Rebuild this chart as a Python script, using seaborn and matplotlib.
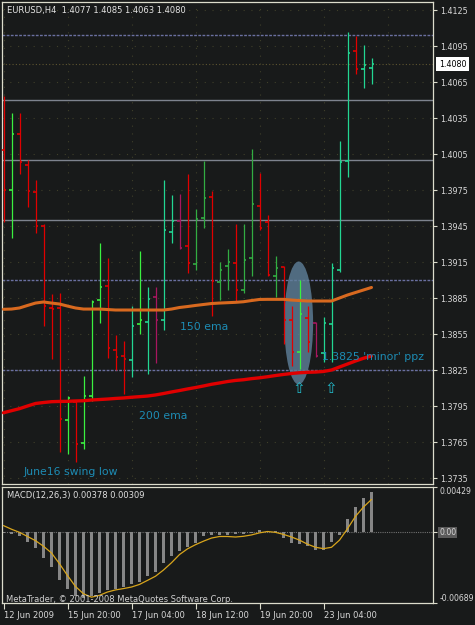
import matplotlib
matplotlib.use("Agg")
import matplotlib.pyplot as plt
import matplotlib.transforms as mtransforms
from matplotlib.patches import Ellipse
import numpy as np
import seaborn as sns

# ---------------- data ----------------
bar_idx = list(range(47))
opens = [1.4008, 1.3975, 1.4022, 1.3996, 1.3973, 1.3945, 1.3877, 1.3877, 1.3783, 1.3798,
         1.3764, 1.3803, 1.3883, 1.3895, 1.3842, 1.3837, 1.3833, 1.3863, 1.3865, 1.3886,
         1.3867, 1.3940, 1.3949, 1.3928, 1.3913, 1.3952, 1.3969, 1.3898, 1.3912, 1.3914,
         1.3892, 1.3918, 1.3962, 1.3948, 1.3903, 1.3911, 1.3867, 1.3840, 1.3868, 1.3864,
         1.3839, 1.3863, 1.3908, 1.3999, 1.4091, 1.4076, 1.4077]
highs = [1.4053, 1.4039, 1.4039, 1.4000, 1.3983, 1.3947, 1.3888, 1.3889, 1.3803, 1.3799,
         1.3820, 1.3883, 1.3931, 1.3918, 1.3854, 1.3849, 1.3878, 1.3924, 1.3894, 1.3894,
         1.3983, 1.3971, 1.3972, 1.3988, 1.3959, 1.3999, 1.3974, 1.3915, 1.3926, 1.3947,
         1.3947, 1.4009, 1.3989, 1.3954, 1.3920, 1.3912, 1.3878, 1.3900, 1.3878, 1.3865,
         1.3869, 1.3914, 1.4016, 1.4107, 1.4103, 1.4096, 1.4085]
lows = [1.3948, 1.3935, 1.3988, 1.3961, 1.3939, 1.3862, 1.3834, 1.3757, 1.3755, 1.3748,
        1.3759, 1.3799, 1.3864, 1.3835, 1.3825, 1.3805, 1.3819, 1.3855, 1.3822, 1.3831,
        1.3858, 1.3931, 1.3926, 1.3906, 1.3908, 1.3943, 1.3870, 1.3883, 1.3892, 1.3882,
        1.3889, 1.3903, 1.3942, 1.3903, 1.3886, 1.3847, 1.3828, 1.3826, 1.3840, 1.3836,
        1.3832, 1.3832, 1.3907, 1.3986, 1.4072, 1.4060, 1.4063]
closes = [1.3975, 1.4022, 1.3998, 1.3974, 1.3945, 1.3878, 1.3876, 1.3784, 1.3802, 1.3763,
          1.3803, 1.3882, 1.3894, 1.3843, 1.3836, 1.3834, 1.3862, 1.3867, 1.3884, 1.3867,
          1.3942, 1.3949, 1.3927, 1.3914, 1.3951, 1.3968, 1.3899, 1.3908, 1.3915, 1.3892,
          1.3917, 1.3963, 1.3943, 1.3904, 1.3910, 1.3867, 1.3840, 1.3872, 1.3848, 1.3837,
          1.3864, 1.3910, 1.3998, 1.4089, 1.4076, 1.4079, 1.4080]
bar_kind = ['R', 'G', 'R', 'R', 'R', 'R', 'R', 'R', 'G', 'R',
            'G', 'G', 'G', 'R', 'R', 'R', 'T', 'G', 'T', 'P',
            'T', 'T', 'P', 'R', 'D', 'D', 'R', 'D', 'D', 'R',
            'D', 'D', 'R', 'R', 'D', 'R', 'R', 'G', 'R', 'P',
            'T', 'T', 'T', 'T', 'R', 'T', 'T']
ema150 = [1.38756, 1.38758, 1.38767, 1.38788, 1.38808, 1.38817, 1.38808, 1.38800, 1.38783, 1.38767,
          1.38758, 1.38758, 1.38758, 1.38754, 1.38750, 1.38750, 1.38750, 1.38750, 1.38750, 1.38750,
          1.38750, 1.38758, 1.38771, 1.38779, 1.38788, 1.38796, 1.38804, 1.38808, 1.38811, 1.38814,
          1.38819, 1.38829, 1.38838, 1.38839, 1.38839, 1.38839, 1.38833, 1.38829, 1.38825, 1.38825,
          1.38825, 1.38825, 1.38850, 1.38875, 1.38896, 1.38917, 1.38938]
ema200 = [1.37894, 1.37911, 1.37928, 1.37950, 1.37971, 1.37979, 1.37986, 1.37988, 1.37989, 1.37992,
          1.37994, 1.38000, 1.38004, 1.38008, 1.38013, 1.38017, 1.38023, 1.38028, 1.38033, 1.38042,
          1.38054, 1.38067, 1.38079, 1.38092, 1.38104, 1.38117, 1.38131, 1.38142, 1.38154, 1.38163,
          1.38169, 1.38178, 1.38185, 1.38194, 1.38204, 1.38213, 1.38221, 1.38227, 1.38231, 1.38233,
          1.38238, 1.38250, 1.38275, 1.38300, 1.38325, 1.38348, 1.38367]
macd_hist = [-0.00010, -0.00020, -0.00043, -0.00100, -0.00159, -0.00259, -0.00341, -0.00468, -0.00557, -0.00623,
             -0.00640, -0.00623, -0.00590, -0.00563, -0.00550, -0.00530, -0.00507, -0.00484, -0.00431, -0.00391,
             -0.00308, -0.00232, -0.00185, -0.00152, -0.00109, -0.00043, -0.00033, -0.00030, -0.00030, -0.00028,
             -0.00025, -0.00010, 0.00014, 0.00005, 0.00002, -0.00060, -0.00110, -0.00125, -0.00142, -0.00175,
             -0.00182, -0.00100, -0.00033, 0.00123, 0.00233, 0.00322, 0.00378]
macd_signal = [0.00057, 0.00022, -0.00008, -0.00048, -0.00088, -0.00142, -0.00207, -0.00311, -0.00424, -0.00530,
               -0.00600, -0.00633, -0.00615, -0.00583, -0.00563, -0.00550, -0.00535, -0.00510, -0.00471, -0.00431,
               -0.00371, -0.00301, -0.00222, -0.00167, -0.00127, -0.00093, -0.00063, -0.00048, -0.00048, -0.00053,
               -0.00046, -0.00033, -0.00013, 0.00000, -0.00008, -0.00028, -0.00053, -0.00083, -0.00122, -0.00152,
               -0.00165, -0.00152, -0.00083, 0.00027, 0.00146, 0.00236, 0.00309]
price_ticks = [1.4125, 1.4095, 1.4065, 1.4035, 1.4005, 1.3975, 1.3945, 1.3915,
               1.3885, 1.3855, 1.3825, 1.3795, 1.3765, 1.3735]
price_labels = ["1.4125", "1.4095", "1.4065", "1.4035", "1.4005", "1.3975", "1.3945", "1.3915",
                "1.3885", "1.3855", "1.3825", "1.3795", "1.3765", "1.3735"]
date_tick_idx = [0, 8, 16, 24, 32, 40]
date_labels = ["12 Jun 2009", "15 Jun 20:00", "17 Jun 04:00", "18 Jun 12:00",
               "19 Jun 20:00", "23 Jun 04:00"]
macd_ticks = [-0.00689, 0.0, 0.00429]
macd_labels = ["-0.00689", "0.00", "0.00429"]
solid_levels = [1.4050, 1.4000, 1.3950]
dotted_levels = [1.4104, 1.3900, 1.3825]
bid_price = 1.4080

# ---------------- style ----------------
BG = "#181a1a"
FRAME = "#dcdccc"
TXT = "#d8d8d8"
ANNO = "#1d8cb4"
palette = {"R": "#e00000", "G": "#3af040", "T": "#22d692", "D": "#32ad42", "P": "#a8165f"}

sns.set_theme(style="dark", rc={"axes.facecolor": BG, "figure.facecolor": BG,
                                "axes.edgecolor": FRAME, "axes.grid": False})
plt.rcParams["font.family"] = ["DejaVu Sans"]

W, H = 475, 625
fig = plt.figure(figsize=(W / 100, H / 100), dpi=100)


def px_axes(l, t, r, b):
    return fig.add_axes([l / W, 1 - b / H, (r - l) / W, (b - t) / H])


ax = px_axes(2, 2, 433, 484)
ax2 = px_axes(2, 487, 433, 603)

for a in (ax, ax2):
    a.set_facecolor(BG)
    a.grid(False)
    for s in a.spines.values():
        s.set_color(FRAME)
        s.set_linewidth(0.9)

# ---------------- main price panel ----------------
xlim = (-0.1875, 53.6875)   # 8 px per bar, bars centred on pixel centres
ax.set_xlim(*xlim)
ax.set_ylim(1.37300, 1.41317)

# faint dotted MetaTrader grid
for p in price_ticks:
    ax.axhline(p, color="#3f3f2a", ls=(0, (1, 6)), lw=0.8, zorder=0)
for k in date_tick_idx + [48]:
    ax.axvline(k, color="#3f3f2a", ls=(0, (1, 6)), lw=0.8, zorder=0)
ax.axhline(bid_price, color="#5e5530", ls=(0, (1, 2)), lw=0.8, zorder=0)

for p in solid_levels:
    ax.axhline(p, color="#7d838e", lw=1.0, zorder=1)
for p in dotted_levels:
    ax.axhline(p, color="#6a70a0", lw=1.0, ls=(0, (2, 1)), zorder=1)

# highlighted ellipse
ax.add_patch(Ellipse((36.9, 1.38642), 3.6, 0.01025, facecolor="#5f809a",
                     edgecolor="none", alpha=0.8, zorder=2))

idx = np.array(bar_idx, dtype=float)
cols = [palette[k] for k in bar_kind]
ax.vlines(idx, lows, highs, colors=cols, lw=0.9, zorder=4)
ax.hlines(opens, idx - 0.36, idx, colors=cols, lw=1.2, zorder=4)
ax.hlines(closes, idx, idx + 0.36, colors=cols, lw=1.2, zorder=4)

sns.lineplot(x=bar_idx, y=ema150, ax=ax, color="#d8691f", lw=2.2, legend=False, zorder=5)
sns.lineplot(x=bar_idx, y=ema200, ax=ax, color="#e00000", lw=2.4, legend=False, zorder=5)
ax.set_xlim(*xlim)
ax.set_ylim(1.37300, 1.41317)
ax.set_xlabel("")
ax.set_ylabel("")

ax.yaxis.tick_right()
ax.set_yticks(price_ticks)
ax.set_yticklabels(price_labels)
ax.tick_params(axis="y", right=True, left=False, length=3, width=0.8, color=FRAME,
               labelsize=5.8, labelcolor=TXT, pad=2, direction="out")
ax.set_xticks([])

# annotations
ax.text(22.0, 1.38608, "150 ema", color=ANNO, fontsize=7.8, va="center", ha="left", zorder=6)
ax.text(16.9, 1.37867, "200 ema", color=ANNO, fontsize=7.8, va="center", ha="left", zorder=6)
ax.text(2.54, 1.37402, "June16 swing low", color=ANNO, fontsize=7.8, va="center", ha="left", zorder=6)
ax.text(39.75, 1.38356, "1.3825 'minor' ppz", color=ANNO, fontsize=7.8, va="center", ha="left", zorder=6)
for xa in (36.9, 40.96):
    ax.text(xa, 1.38092, "\u21e7", color="#22b8c8", fontsize=11, va="center", ha="center", zorder=6)

blend = mtransforms.blended_transform_factory(ax.transAxes, ax.transData)
ax.text(1.0139, bid_price, "1.4080", transform=blend, fontsize=5.8, color="black",
        va="center", ha="left", bbox=dict(facecolor="white", edgecolor="none", pad=1.8),
        zorder=10, clip_on=False)

fig.text(7 / W, 1 - 10.7 / H, "EURUSD,H4  1.4077 1.4085 1.4063 1.4080",
         fontsize=6, color="#e4e4e4", va="center", ha="left")

# ---------------- MACD panel ----------------
ax2.axhline(0, color="#707070", ls=(0, (1, 1)), lw=0.8, zorder=0)
sns.barplot(x=bar_idx, y=macd_hist, native_scale=True, width=0.35, color="#868686",
            saturation=1, errorbar=None, linewidth=0, ax=ax2, zorder=2)
sns.lineplot(x=bar_idx, y=macd_signal, ax=ax2, color="#d8a51c", lw=0.9, legend=False, zorder=3)
ax2.set_xlim(*xlim)
ax2.set_ylim(-0.00689, 0.00429)
ax2.set_xlabel("")
ax2.set_ylabel("")
ax2.grid(False)

ax2.yaxis.tick_right()
ax2.set_yticks(macd_ticks)
ax2.set_yticklabels(macd_labels)
ax2.tick_params(axis="y", right=True, left=False, length=3, width=0.8, color=FRAME,
                labelsize=5.6, labelcolor=TXT, pad=1.5, direction="out")
ylabs = ax2.get_yticklabels()
ylabs[0].set_va("bottom")
ylabs[2].set_va("top")
ylabs[1].set_bbox(dict(facecolor="#5a5a5a", edgecolor="none", pad=0.6))

ax2.set_xticks(date_tick_idx)
ax2.set_xticklabels(date_labels)
ax2.tick_params(axis="x", bottom=True, length=4, width=0.8, color=FRAME,
                labelsize=6, labelcolor=TXT, pad=1.5, direction="out")
for lab in ax2.get_xticklabels():
    lab.set_ha("left")

fig.text(7 / W, 1 - 495.7 / H, "MACD(12,26,3) 0.00378 0.00309",
         fontsize=6, color="#e0e0e0", va="center", ha="left")
fig.text(6 / W, 1 - 599.5 / H, "MetaTrader, \u00a9 2001-2008 MetaQuotes Software Corp.",
         fontsize=6, color="#d0d0d0", va="center", ha="left")

fig.savefig("out.png", dpi=100, facecolor=BG)
